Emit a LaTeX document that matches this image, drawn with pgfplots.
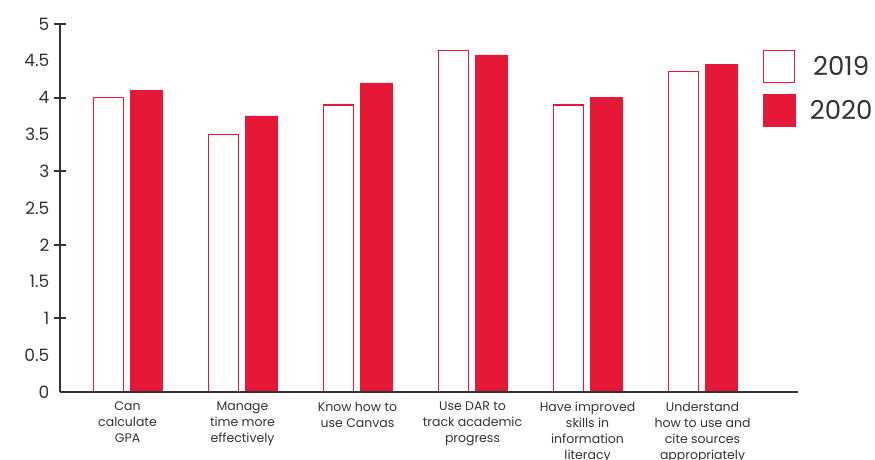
\documentclass[border=0pt]{standalone}
\usepackage{pgfplots}
\pgfplotsset{compat=1.18}
\usepackage{fontspec}
\setmainfont{Poppins}
\definecolor{myred}{HTML}{E51937}
\definecolor{txt}{HTML}{333333}
\begin{document}
\begin{tikzpicture}
\path[use as bounding box] (-60pt,-68pt) rectangle (815pt,392pt);
\begin{axis}[
  scale only axis,
  width=738pt, height=368pt,
  xmin=-0.587, xmax=5.83,
  ymin=0, ymax=5,
  axis on top,
  axis x line=bottom, axis y line=left,
  x axis line style={-, line width=2pt, color=txt},
  y axis line style={-, line width=2.6pt, color=txt},
  xtick={0,1,2,3,4,5},
  xticklabels={Can\\calculate\\GPA, Manage\\time more\\effectively, Know how to\\use Canvas, Use DAR to\\track academic\\progress, Have improved\\skills in\\information\\literacy, Understand\\how to use and\\cite sources\\appropriately},
  x tick label style={align=center, font=\fontsize{12.5}{16}\selectfont, text=txt, anchor=north, yshift=-4.5pt},
  major x tick style={draw=none},
  ytick={0,0.5,...,5},
  y tick label style={font=\fontsize{17}{17}\selectfont, text=txt, xshift=-5pt},
  major y tick style={draw=none},
  extra y ticks={1,2,3,4,5},
  extra y tick labels={},
  extra y tick style={major tick length=12pt, tick align=center, major y tick style={draw=txt, line width=2pt}},
  /pgf/number format/assume math mode=true,
  legend style={draw=none, fill=none, inner sep=0pt, outer sep=0pt,
    at={(0.9526,0.929)}, anchor=north west,
    font=\fontsize{26}{26}\selectfont, text=txt,
    row sep=11pt, nodes={inner sep=0pt},
    /tikz/every odd column/.style={column sep=14pt}},
  clip=false,
]
\addplot[ybar, bar width=0.265, bar shift=-0.165, draw=myred, fill=white, line width=1.3pt,
  legend image code/.code={\draw[draw=myred, fill=white, line width=1.3pt] (0pt,-16pt) rectangle (31pt,16pt);}]
  coordinates {(0,4.0) (1,3.5) (2,3.9) (3,4.64) (4,3.9) (5,4.35)};
\addlegendentry{2019}
\addplot[ybar, bar width=0.28, bar shift=0.165, draw=myred, fill=myred, line width=0.4pt,
  legend image code/.code={\draw[draw=myred, fill=myred] (0pt,-16pt) rectangle (32pt,16pt);}]
  coordinates {(0,4.1) (1,3.75) (2,4.2) (3,4.58) (4,4.0) (5,4.45)};
\addlegendentry{2020}
\end{axis}
\end{tikzpicture}
\end{document}
